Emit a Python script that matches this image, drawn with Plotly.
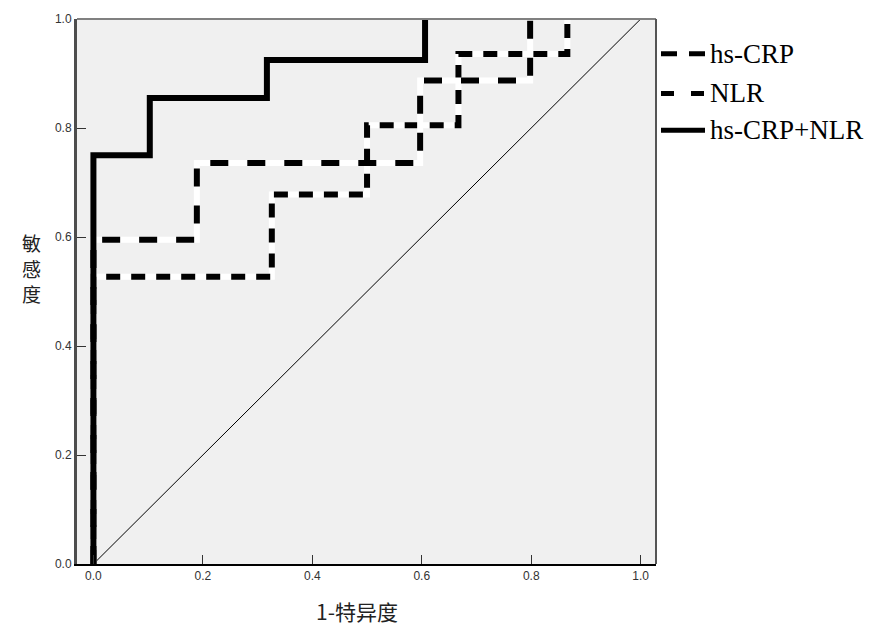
import plotly.graph_objects as go

# ROC curves (1-specificity, sensitivity)
crp_x = [0.0, 0.0, 0.189, 0.189, 0.597, 0.597, 0.798, 0.798]
crp_y = [0.0, 0.595, 0.595, 0.736, 0.736, 0.887, 0.887, 1.0]

nlr_x = [0.0, 0.0, 0.326, 0.326, 0.5, 0.5, 0.667, 0.667, 0.866, 0.866]
nlr_y = [0.0, 0.527, 0.527, 0.678, 0.678, 0.805, 0.805, 0.936, 0.936, 1.0]

both_x = [0.0, 0.0, 0.103, 0.103, 0.317, 0.317, 0.606, 0.606]
both_y = [0.0, 0.75, 0.75, 0.855, 0.855, 0.925, 0.925, 1.0]

ref_x = [0.0, 1.0]
ref_y = [0.0, 1.0]

tick_vals = [0.0, 0.2, 0.4, 0.6, 0.8, 1.0]
tick_text = ["0.0", "0.2", "0.4", "0.6", "0.8", "1.0"]

legend_names = ["hs-CRP", "NLR", "hs-CRP+NLR"]
y_title_chars = ["敏", "感", "度"]

fig = go.Figure()

# reference diagonal
fig.add_trace(go.Scatter(x=ref_x, y=ref_y, mode="lines",
                         line=dict(color="black", width=1), showlegend=False))

# dashed curves: white underlay + black dashes on top
for xs, ys, dash in [(nlr_x, nlr_y, "14px,11px"), (crp_x, crp_y, "18px,19px")]:
    fig.add_trace(go.Scatter(x=xs, y=ys, mode="lines",
                             line=dict(color="white", width=6), showlegend=False))
    fig.add_trace(go.Scatter(x=xs, y=ys, mode="lines",
                             line=dict(color="black", width=6, dash=dash), showlegend=False))

fig.add_trace(go.Scatter(x=both_x, y=both_y, mode="lines",
                         line=dict(color="black", width=6), showlegend=False))

fig.update_layout(
    width=874, height=638,
    margin=dict(l=77, r=218, t=15, b=74),
    paper_bgcolor="white",
    plot_bgcolor="#f0f0f0",
    showlegend=False,
    font=dict(family="Liberation Sans", size=12, color="#333"),
)

fig.update_xaxes(range=[-0.030, 1.028], showgrid=False, zeroline=False,
                 tickvals=tick_vals, ticktext=tick_text,
                 ticks="inside", ticklen=9, tickwidth=1, tickcolor="#333",
                 showline=True, linecolor="black", linewidth=2)
fig.update_yaxes(range=[0, 1], showgrid=False, zeroline=False,
                 tickvals=tick_vals, ticktext=tick_text,
                 ticks="inside", ticklen=9, tickwidth=1, tickcolor="#333",
                 showline=True, linecolor="#4d4d4d", linewidth=3)

# top and right frame
fig.add_shape(type="line", xref="paper", yref="paper", x0=0, x1=1, y0=1, y1=1,
              line=dict(color="#808080", width=2))
fig.add_shape(type="line", xref="paper", yref="paper", x0=1, x1=1, y0=0, y1=1,
              line=dict(color="#555555", width=2))

plot_w = 874 - 77 - 218
plot_h = 638 - 15 - 74
def px_x(p):
    return (p - 77) / plot_w
def px_y(p):
    return (638 - 74 - p) / plot_h

# axis titles
fig.add_annotation(text="1-特异度", xref="paper", yref="paper", x=px_x(357), y=px_y(611),
                   showarrow=False, xanchor="center", yanchor="middle",
                   font=dict(family="Noto Sans CJK SC", size=21, color="#222"))
for i, ch in enumerate(y_title_chars):
    fig.add_annotation(text=ch, xref="paper", yref="paper", x=px_x(31), y=px_y(240 + 26 * i),
                       showarrow=False, xanchor="center", yanchor="middle",
                       font=dict(family="Noto Sans CJK SC", size=19, color="#222"))

# manual legend to the right of the plot
legend_rows = [(50, "16px,12px"), (90, "13px,17px"), (127, "solid")]
for (row_y, dash), name in zip(legend_rows, legend_names):
    fig.add_shape(type="line", xref="paper", yref="paper",
                  x0=px_x(661), x1=px_x(705), y0=px_y(row_y), y1=px_y(row_y),
                  line=dict(color="black", width=5, dash=dash))
    fig.add_annotation(text=name, xref="paper", yref="paper",
                       x=px_x(708), y=px_y(row_y), showarrow=False,
                       xanchor="left", yanchor="middle",
                       font=dict(family="Liberation Serif", size=27, color="black"))

fig.write_html("out.html", config={"displayModeBar": False},
               post_script="document.body.style.margin='0';")
